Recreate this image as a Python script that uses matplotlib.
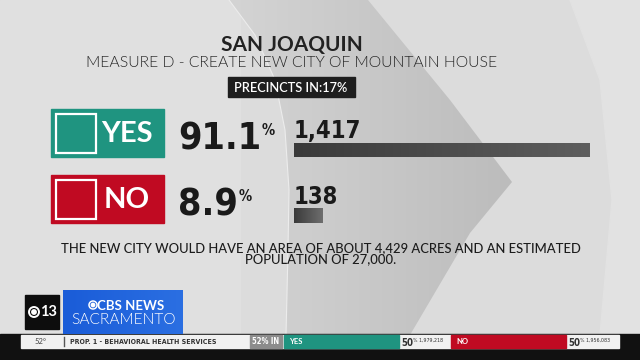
import numpy as np
import matplotlib
matplotlib.use("Agg")
import matplotlib.pyplot as plt
from matplotlib.patches import Rectangle, Polygon, Ellipse, Circle
from matplotlib.colors import LinearSegmentedColormap

# -------------------------------
# DATA
# -------------------------------
county = "SAN JOAQUIN"
measure = "MEASURE D - CREATE NEW CITY OF MOUNTAIN HOUSE"
precincts_in = 17
choices = ["YES", "NO"]
pcts = [91.1, 8.9]
votes = [1417, 138]
note = ("THE NEW CITY WOULD HAVE AN AREA OF ABOUT 4,429 ACRES AND AN ESTIMATED\n"
        "POPULATION OF 27,000.")

# ticker at the bottom
temp = "52°"
prop_title = "PROP. 1 - BEHAVIORAL HEALTH SERVICES"
prop_in = 52
prop_choices = ["YES", "NO"]
prop_pcts = [50, 50]
prop_votes = [1979218, 1956083]

TEAL = "#1f9480"
RED = "#c00a22"
MAIN = ["Lato", "DejaVu Sans"]
COND = dict(family="DejaVu Sans", stretch="condensed")


def gradient(ax, patch, c0, c1, extent, z):
    cmap = LinearSegmentedColormap.from_list("g", [c0, c1])
    im = ax.imshow(np.linspace(0, 1, 256)[None, :], cmap=cmap, extent=extent,
                   aspect="auto", zorder=z, interpolation="bilinear")
    im.set_clip_path(patch)


# -------------------------------
# FIGURE / BACKGROUND
# -------------------------------
fig = plt.figure(figsize=(6.4, 3.6), dpi=100)
ax = fig.add_axes([0, 0, 1, 1])
ax.set_xlim(0, 640)
ax.set_ylim(360, 0)
ax.axis("off")
ax.add_patch(Rectangle((0, 0), 640, 360, color="#dcdcdc", zorder=0))
ax.add_patch(Rectangle((0, 0), 240, 335, color="#e0e0e0", zorder=0))

# right light band
band = Polygon([(570, 0), (640, 0), (640, 335), (600, 335), (612, 200), (600, 80)],
               closed=True, color="#e2e2e2", zorder=0.5)
ax.add_patch(band)

# dark chevron shape
chev = Polygon([(229, 0), (255, 35), (275, 80), (285, 130), (289, 190), (288, 250),
                (286, 335), (410, 335), (470, 233), (512, 182), (450, 100), (368, 0)],
               closed=True, facecolor="none", edgecolor="none", zorder=1)
ax.add_patch(chev)
gradient(ax, chev, "#d4d4d4", "#bcbcbc", (229, 512, 335, 0), 1)
ax.plot([229, 255, 275, 285, 289, 288, 286], [0, 35, 80, 130, 190, 250, 335],
        color="#ececec", lw=0.8, zorder=1.2)

# -------------------------------
# HEADER
# -------------------------------
ax.text(292, 45, county, ha="center", va="center", fontsize=15, fontweight="bold",
        color="#222222", family=MAIN, zorder=5)
ax.text(292, 63, measure, ha="center", va="center", fontsize=11.3, fontweight=300,
        color="#262626", family=MAIN, zorder=5)
ax.add_patch(Rectangle((228, 77), 127, 20, color="#1e1e1e", zorder=4))
ax.text(291, 87.5, f"PRECINCTS IN:{precincts_in}%", ha="center", va="center",
        fontsize=9.2, fontweight="semibold", color="white", family=MAIN, zorder=5)

# -------------------------------
# CHOICE ROWS
# -------------------------------
rows_y = [109, 175]
box_colors = [TEAL, RED]
for i, name in enumerate(choices):
    y0 = rows_y[i]
    ax.add_patch(Rectangle((51, y0), 113, 48, color=box_colors[i], zorder=4))
    ax.add_patch(Rectangle((55.5, y0 + 4.5), 40, 39, facecolor="none",
                           edgecolor="white", lw=1.6, zorder=5))
    ax.text(127, y0 + 25, name, ha="center", va="center", fontsize=21,
            fontweight="bold", color="white", family=MAIN, zorder=5)
    t = ax.text(178, y0 + 41, f"{pcts[i]:.1f}", ha="left", va="baseline",
                fontsize=27, fontweight="bold", color="#1a1a1a", zorder=5, **COND)
    ax.annotate("%", xy=(1, 1), xycoords=t, xytext=(0.5, -0.8), textcoords="offset points",
                ha="left", va="top", fontsize=10.5, fontweight="bold", color="#1a1a1a",
                zorder=5, **COND)
    ax.text(294, y0 + 29, f"{votes[i]:,}", ha="left", va="baseline", fontsize=17,
            fontweight="bold", color="#1a1a1a", zorder=5, **COND)

# bars (scaled so the largest vote count spans 296 px)
axb = fig.add_axes([294 / 640, 0, 296 / 640, 1])
axb.set_xlim(0, max(votes))
axb.set_ylim(360, 0)
axb.axis("off")
axb.patch.set_alpha(0)
bar_y = [150, 215.5]
bars = axb.barh(bar_y, votes, height=[14, 15], left=0, color="#474747", zorder=2)
for b, v in zip(bars, votes):
    y = b.get_y()
    gradient(axb, b, "#3a3a3a", "#5e5e5e" if v == max(votes) else "#6e6e6e",
             (0, v, y + b.get_height(), y), 3)
axb.set_xlim(0, max(votes))
axb.set_ylim(360, 0)

# note
ax.text(321, 253.5, note, ha="center", va="center", fontsize=9.4, fontweight="medium",
        color="#1c1c1c", family=MAIN, linespacing=0.88, zorder=5)

# -------------------------------
# LOGO + TICKER
# -------------------------------
ax.add_patch(Rectangle((0, 334), 640, 26, color="#111111", zorder=6))
ax.add_patch(Rectangle((21, 335), 598, 13, color="#f1f1f1", zorder=7))

ax.add_patch(Rectangle((25, 295), 34, 34, color="#0d0d0d", zorder=6))
ax.add_patch(Ellipse((34, 312), 10, 10, facecolor="none", edgecolor="white", lw=1.4, zorder=7))
ax.add_patch(Circle((34, 312), 2.2, color="white", zorder=7))
ax.text(48.5, 312.5, "13", ha="center", va="center", fontsize=10.5, fontweight="bold",
        color="white", family=MAIN, zorder=7)

blue = Rectangle((63, 290), 120, 44, facecolor="none", edgecolor="none", zorder=6)
ax.add_patch(blue)
gradient(ax, blue, "#1a5cd8", "#2b6fe2", (63, 183, 334, 290), 6)
ax.add_patch(Ellipse((93, 305), 8, 8, facecolor="none", edgecolor="white", lw=1.1, zorder=7))
ax.add_patch(Circle((93, 305), 1.7, color="white", zorder=7))
ax.text(131, 305.5, "CBS NEWS", ha="center", va="center", fontsize=9.5, fontweight="bold",
        color="white", family=MAIN, zorder=7)
ax.text(124, 319.5, "SACRAMENTO", ha="center", va="center", fontsize=11.2,
        fontweight=300, color="white", family=MAIN, zorder=7)

ax.text(41, 341.5, temp, ha="center", va="center", fontsize=5.5, color="#444444",
        family=MAIN, zorder=8)
ax.plot([64, 64], [337, 346], color="#555555", lw=1, zorder=8)
ax.text(70, 341.5, prop_title, ha="left", va="center", fontsize=5, fontweight="bold",
        color="#333333", zorder=8, **COND)
ax.add_patch(Rectangle((250, 335), 32, 13, color="#8c8c8c", zorder=8))
ax.text(266, 341.5, f"{prop_in}% IN", ha="center", va="center", fontsize=5.5,
        fontweight="bold", color="white", zorder=9, **COND)
seg_x = [284, 451]
seg_c = [TEAL, RED]
for i, name in enumerate(prop_choices):
    x0 = seg_x[i]
    ax.add_patch(Rectangle((x0, 335), 115, 13, color=seg_c[i], zorder=8))
    ax.text(x0 + 5, 341.5, name, ha="left", va="center", fontsize=5.5, fontweight="bold",
            color="white", family=MAIN, zorder=9)
    t = ax.text(x0 + 117, 345.5, f"{prop_pcts[i]}", ha="left", va="baseline", fontsize=7,
                fontweight="bold", color="#333333", zorder=9, **COND)
    ax.annotate(f"% {prop_votes[i]:,}", xy=(1, 1), xycoords=t, xytext=(0.3, 0),
                textcoords="offset points", ha="left", va="top", fontsize=3.8,
                color="#333333", zorder=9, **COND)

ax.set_xlim(0, 640)
ax.set_ylim(360, 0)
fig.savefig("out.png", dpi=100)
